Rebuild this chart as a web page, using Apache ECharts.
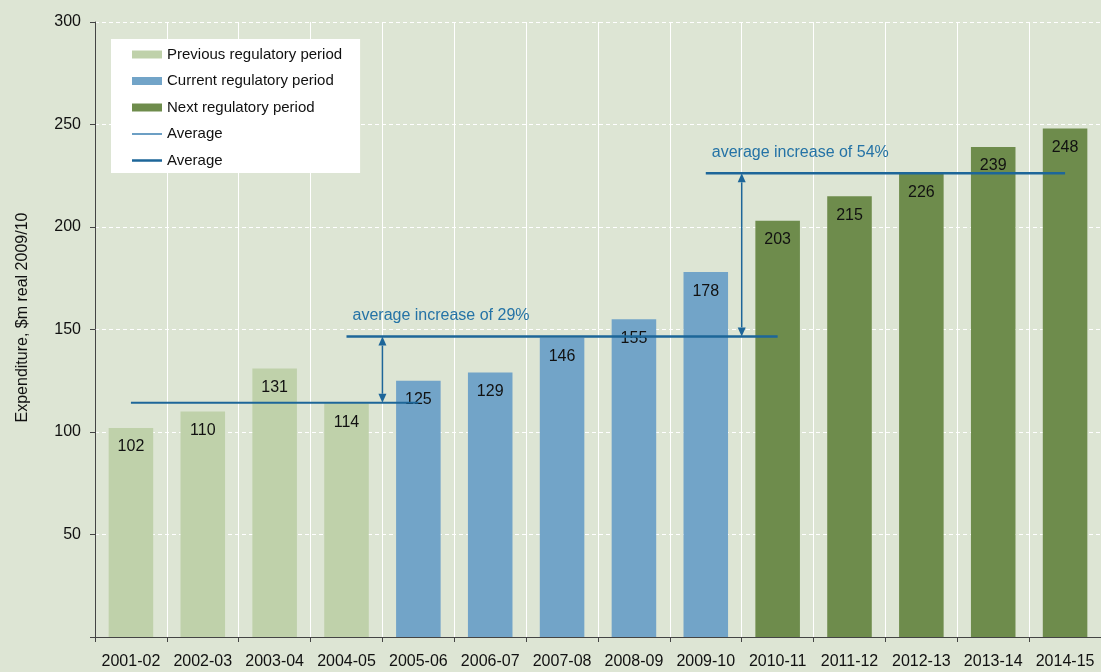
<!DOCTYPE html>
<html>
<head>
<meta charset="utf-8">
<script src="https://cdn.jsdelivr.net/npm/echarts@6/dist/echarts.min.js"></script>
<style>
  html, body { margin: 0; padding: 0; background: #dde5d4; }
  #chart { width: 1101px; height: 672px; }
</style>
</head>
<body>
<div id="chart"></div>
<script>
// Financial years on the category axis
const categories = ['2001-02', '2002-03', '2003-04', '2004-05', '2005-06', '2006-07', '2007-08',
  '2008-09', '2009-10', '2010-11', '2011-12', '2012-13', '2013-14', '2014-15'];

// Expenditure per year, $m real 2009/10, grouped by regulatory period
const previousPeriod = [102, 110, 131, 114];
const currentPeriod = [125, 129, 146, 155, 178];
const nextPeriod = [203, 215, 226, 239, 248];

const yTicks = [0, 50, 100, 150, 200, 250, 300];
const increaseLabels = ['average increase of 29%', 'average increase of 54%'];

const FONT = '"Liberation Sans", Arial, sans-serif';
const AVG_COLOR = '#1d6699';

const mean = arr => arr.reduce((s, v) => s + v, 0) / arr.length;
const avgPrev = mean(previousPeriod);
const avgCur = mean(currentPeriod);
const avgNext = mean(nextPeriod);

const nPrev = previousPeriod.length;
const nCur = currentPeriod.length;
const n = categories.length;

// Pad each period to the full category range so the bars sit at their own years
function padded(values, offset) {
  const out = new Array(n).fill('-');
  values.forEach((v, i) => { out[offset + i] = v; });
  return out;
}

const barLabel = {
  show: true, position: 'insideTop', distance: 11,
  color: '#111', fontSize: 16, fontFamily: FONT
};

function barSeries(name, data, color) {
  return {
    name, type: 'bar', stack: 'exp', barWidth: '62%',
    data, itemStyle: { color }, label: barLabel
  };
}

function avgLine(name, from, to, value, width) {
  return {
    name, type: 'line', symbol: 'none', z: 5,
    data: [[from, value], [to, value]],
    lineStyle: { color: AVG_COLOR, width },
    itemStyle: { color: AVG_COLOR }
  };
}

// Arrow between two period averages, with its caption: [leftIdx, rightIdx, low, high, captionIdx]
const arrows = [
  [nPrev - 1, nPrev, avgPrev, avgCur, 0],
  [nPrev + nCur - 1, nPrev + nCur, avgCur, avgNext, 1]
];

function renderArrow(params, api) {
  const l = api.value(0), r = api.value(1);
  const low = api.value(2), high = api.value(3);
  const pl = api.coord([l, low]);
  const pr = api.coord([r, low]);
  const ph = api.coord([l, high]);
  const x = (pl[0] + pr[0]) / 2;
  const y1 = pl[1], y2 = ph[1];
  const ah = 9, aw = 4;
  const style = { fill: AVG_COLOR };
  return {
    type: 'group',
    children: [
      { type: 'line', shape: { x1: x, y1: y1 - ah, x2: x, y2: y2 + ah },
        style: { stroke: AVG_COLOR, lineWidth: 1.5 } },
      { type: 'polygon', shape: { points: [[x, y2], [x - aw, y2 + ah], [x + aw, y2 + ah]] }, style },
      { type: 'polygon', shape: { points: [[x, y1], [x - aw, y1 - ah], [x + aw, y1 - ah]] }, style },
      { type: 'text', x: pl[0] + 6, y: y2 - 21,
        style: { text: increaseLabels[api.value(4)], fill: '#2573a6', fontSize: 16,
          fontFamily: FONT, textVerticalAlign: 'middle', textAlign: 'left' } }
    ]
  };
}

// Flat line icons for the two average entries
const thinLineIcon = 'path://M0,0L60,0L60,3L0,3Z';
const thickLineIcon = 'path://M0,0L60,0L60,5L0,5Z';

const chart = echarts.init(document.getElementById('chart'), null, { renderer: 'canvas' });

chart.setOption({
  backgroundColor: '#dde5d4',
  animation: false,
  textStyle: { fontFamily: FONT },
  grid: { left: 95, right: 0, top: 22, bottom: 35 },
  legend: {
    orient: 'vertical', left: 111, top: 39,
    backgroundColor: '#ffffff',
    padding: [8, 18, 5, 21],
    itemGap: 11.5, itemWidth: 30, itemHeight: 8,
    textStyle: { fontSize: 15, color: '#111', fontFamily: FONT },
    data: [
      { name: 'Previous regulatory period', icon: 'rect' },
      { name: 'Current regulatory period', icon: 'rect' },
      { name: 'Next regulatory period', icon: 'rect' },
      { name: 'Average', icon: thinLineIcon, itemStyle: { color: '#3b7fb0' } },
      { name: 'Average ', icon: thickLineIcon, itemStyle: { color: AVG_COLOR } }
    ]
  },
  xAxis: {
    type: 'category', data: categories,
    axisLine: { lineStyle: { color: '#444', width: 1 } },
    axisTick: { show: true, length: 5, lineStyle: { color: '#444' } },
    axisLabel: { color: '#111', fontSize: 16, margin: 17, interval: 0, fontFamily: FONT },
    splitLine: { show: true, interval: 0, lineStyle: { color: '#ffffff', width: 1 } }
  },
  yAxis: {
    type: 'value', min: yTicks[0], max: yTicks[yTicks.length - 1], interval: 50,
    name: 'Expenditure, $m real 2009/10', nameLocation: 'middle', nameGap: 64,
    nameTextStyle: { color: '#111', fontSize: 16, fontFamily: FONT, padding: [0, 0, 0, 24] },
    axisLine: { show: true, lineStyle: { color: '#444', width: 1 } },
    axisTick: { show: true, length: 5, lineStyle: { color: '#444' } },
    axisLabel: { color: '#111', fontSize: 16, margin: 14, fontFamily: FONT,
      formatter: v => (v === 0 ? '' : String(v)) },
    splitLine: { show: true, lineStyle: { color: '#ffffff', type: [4, 3], width: 1 } }
  },
  series: [
    barSeries('Previous regulatory period', padded(previousPeriod, 0), '#bfd1aa'),
    barSeries('Current regulatory period', padded(currentPeriod, nPrev), '#72a4c8'),
    barSeries('Next regulatory period', padded(nextPeriod, nPrev + nCur), '#6e8c4c'),
    avgLine('Average', 0, nPrev, avgPrev, 2),
    avgLine('Average ', nPrev - 1, nPrev + nCur, avgCur, 2.5),
    avgLine('Average ', nPrev + nCur - 1, n - 1, avgNext, 2.5),
    {
      type: 'custom', z: 6, silent: true, clip: false,
      renderItem: renderArrow,
      encode: { x: 0, y: 2 },
      data: arrows
    }
  ]
});
</script>
</body>
</html>
